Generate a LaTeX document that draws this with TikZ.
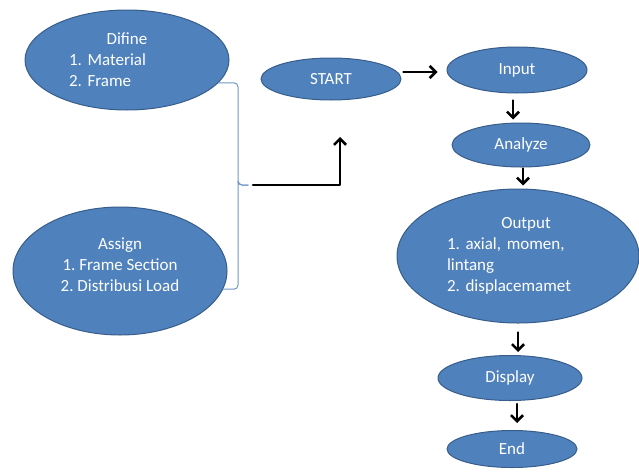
\documentclass[tikz,border=0pt]{standalone}
\usepackage{fontspec}
\setmainfont{Carlito}
\usetikzlibrary{shapes.geometric,arrows.meta}
\definecolor{ovalfill}{HTML}{4F81BD}
\definecolor{ovalline}{HTML}{385D8A}
\definecolor{bracecol}{HTML}{6E97C8}
\begin{document}
\begin{tikzpicture}[x=1pt, y=-1pt, line join=round, line cap=round, >={Straight Barb[length=6pt,width=12pt]},
		oval/.style={ellipse, draw=ovalline, fill=ovalfill, line width=1pt, text=white, inner sep=0pt, font=\fontsize{17}{21}\selectfont\frenchspacing},
		flow/.style={->, line width=2.6pt, black},
		bracket/.style={draw=bracecol, line width=1pt, rounded corners=4pt}]
				\useasboundingbox (0,0) rectangle (639,471);
				% left side
				\node[oval, minimum width=204pt, minimum height=100pt, text width=116pt, align=left] (difine) at (127,60) {\makebox[116pt]{Difine}\\1.\ Material\\2.\ Frame};
				\node[oval, minimum width=214pt, minimum height=128pt, align=center] (assign) at (120,271) {Assign\\1.\ Frame Section\\2.\ Distribusi Load\\[-8pt]\mbox{}};
				\coordinate (brace) at (248,185);
				\coordinate (up) at (340,137);
				\draw[bracket] (difine.-14) -| ([xshift=-10pt]brace) |- (brace);
				\draw[bracket] (assign.-10) -| ([xshift=-10pt]brace) |- (brace);
				\draw[flow] ([xshift=5pt]brace) -| (up);
				% main column
				\node[oval, minimum width=140pt, minimum height=42pt] (start) at (331,79) {START};
				\node[oval, minimum width=140pt, minimum height=46pt] (input) at (517,70) {Input};
				\node[oval, minimum width=138pt, minimum height=44pt] (analyze) at (521,145) {Analyze};
				\node[oval, minimum width=242pt, minimum height=134pt, text width=142pt, align=left] (output) at (518,256) {\makebox[142pt]{\hspace{16pt}Output}\\1.\ axial,\ momen,\\lintang\\2.\ displacemamet};
				\node[oval, minimum width=144pt, minimum height=45pt] (display) at (510,378) {Display};
				\node[oval, minimum width=130pt, minimum height=37pt] (end) at (512,449) {End};
				\draw[flow] ([xshift=2pt,yshift=7pt]start.east) -- ([xshift=-9pt,yshift=-2pt]input.west);
				\draw[flow] ([xshift=-4pt,yshift=-7pt]input.south) -- ([xshift=-8pt,yshift=3pt]analyze.north);
				\draw[flow] ([xshift=2pt,yshift=-1pt]analyze.south) -- ([xshift=5pt,yshift=3pt]output.north);
				\draw[flow] ([yshift=-9pt]output.south) -- ([xshift=8pt,yshift=3pt]display.north);
				\draw[flow] ([xshift=7pt,yshift=-3pt]display.south) -- ([xshift=5pt,yshift=7pt]end.north);
		\end{tikzpicture}
\end{document}
